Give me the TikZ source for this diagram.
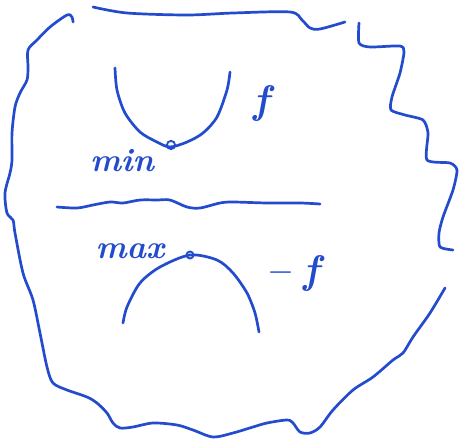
\documentclass[tikz,border=0pt]{standalone}
\definecolor{ink}{RGB}{35,75,205}
\tikzset{
  pen/.style={ink, line width=2.3pt, line cap=round, line join=round},
  hand/.style={ink, inner sep=0pt, font=\fontsize{28}{30}\selectfont\bfseries\itshape},
  bighand/.style={hand, font=\fontsize{34}{36}\selectfont\bfseries\itshape},
  blob/.style={draw=ink, line width=1.6pt, circle, minimum size=7pt, inner sep=0pt},
}
\begin{document}
\begin{tikzpicture}[x=0.03cm, y=-0.03cm]
  \useasboundingbox (0,0) rectangle (463,443);

  % wobbly outline, drawn in three strokes
  \draw[pen] plot[smooth, tension=0.5] coordinates {(93,7) (127,13) (187,15)
    (233,13) (290,12) (302,20) (310,28) (320,29) (345,22)};
  \draw[pen] plot[smooth, tension=0.4] coordinates {(359,23) (359,43) (370,47)
    (400,46) (404,52) (400,73) (392,97) (391,110) (405,115) (423,120) (428,133)
    (427,160) (450,163) (457,170) (453,190) (443,217) (439,233) (440,247) (453,250)};
  \draw[pen] plot[smooth, tension=0.5] coordinates {(445,288) (430,313) (413,337)
    (403,353) (393,360) (373,377) (353,390) (333,410) (320,427) (310,433) (300,432)
    (293,423) (287,420) (267,423) (253,427) (233,433) (213,437) (193,430) (177,425)
    (153,423) (133,427) (120,428) (113,423) (107,413) (97,403) (87,397) (67,390)
    (53,383) (47,367) (40,333) (33,300) (23,273) (15,233) (13,220) (7,213) (5,193)
    (10,173) (12,160) (12,133) (15,107) (20,93) (27,80) (28,67) (28,50) (37,40)
    (50,27) (67,15) (72,17) (73,22)};

  % upper curve
  \draw[pen] plot[smooth] coordinates {(115,68) (117,90) (125,113) (140,132)
    (157,142) (170,147) (187,142) (203,133) (217,117) (227,90) (230,72)};
  \node[blob] (minpt) at (171,145) {};
  \node[hand] (minlbl) at (122,161) {min};
  \node[bighand] (flbl) at (261,104) {f};

  % dividing squiggle
  \draw[pen] plot[smooth] coordinates {(57,207) (77,208) (93,205) (110,202)
    (123,203) (140,200) (157,200) (170,200) (187,207) (200,208) (220,203)
    (233,202) (267,203) (300,203) (320,204)};

  % lower curve
  \draw[pen] plot[smooth] coordinates {(123,323) (127,307) (140,283) (160,267)
    (190,255) (217,260) (233,273) (247,293) (255,313) (259,332)};
  \node[blob, minimum size=6pt] (maxpt) at (190,255) {};
  \node[hand] (maxlbl) at (130,251) {max};
  \node[bighand] (negf) at (293,274) {\textendash\hspace{12pt}f};
\end{tikzpicture}
\end{document}
